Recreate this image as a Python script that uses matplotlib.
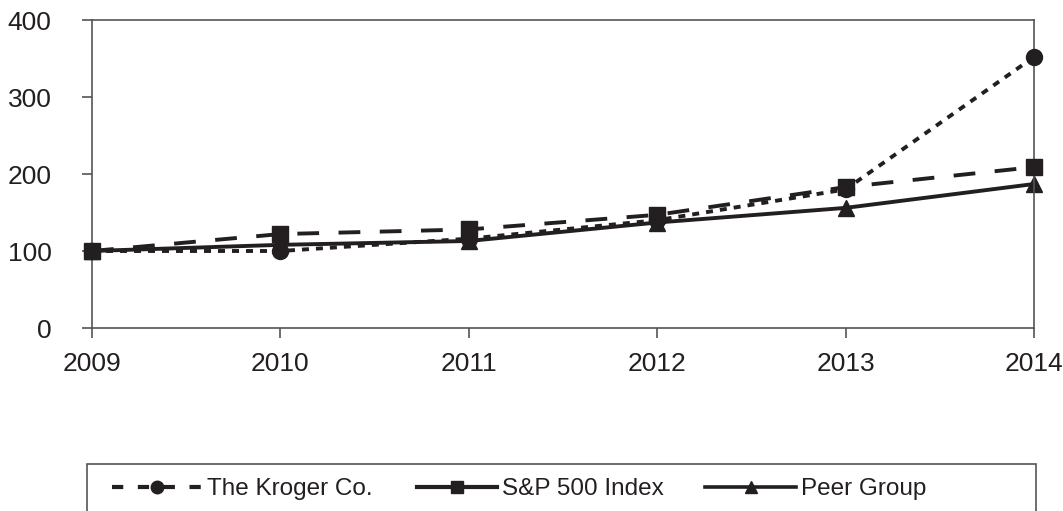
import matplotlib
matplotlib.use("Agg")
import matplotlib.pyplot as plt
from matplotlib.patches import Rectangle
from matplotlib.lines import Line2D

plt.rcParams['font.family'] = ['Liberation Sans', 'DejaVu Sans']

years = [2009, 2010, 2011, 2012, 2013, 2014]
kroger = [100, 100, 116, 140, 180, 352]
sp500 = [100, 122, 128, 147, 183, 209]
peer = [100, 108, 113, 137, 156, 187]
yticks = [0, 100, 200, 300, 400]
names = ['The Kroger Co.', 'S&P 500 Index', 'Peer Group']

W, H = 1063, 511
fig = plt.figure(figsize=(W/100, H/100), dpi=100)
ax = fig.add_axes([92/W, (H-328)/H, (1034-92)/W, (328-20)/H])

col = '#231f20'
ax.plot(years, kroger, color=col, lw=2.8, dashes=(1.8, 1.8), marker='o', ms=11.5,
        zorder=3, clip_on=False)
ax.plot(years, sp500, color=col, lw=2.8, dashes=(5.6, 5), marker='s', ms=11,
        zorder=4, clip_on=False)
ax.plot(years, peer, color=col, lw=2.8, marker='^', ms=11,
        zorder=2, clip_on=False)

ax.set_xlim(2009, 2014)
ax.set_ylim(0, 400)
ax.set_xticks(years)
ax.set_yticks(yticks)
for s in ax.spines.values():
    s.set_color('#555555')
    s.set_linewidth(1.2)
ax.tick_params(axis='y', direction='out', length=7, width=1.2, color='#555555',
               pad=22, labelsize=19, labelcolor=col)
ax.tick_params(axis='x', direction='out', length=7, width=1.2, color='#555555',
               pad=10, labelsize=19, labelcolor=col)

# legend box (extends past the bottom edge of the figure)
fig.patches.append(Rectangle((87/W, -0.1), (1036-87)/W, (H-464)/H + 0.1,
                             transform=fig.transFigure, fill=False,
                             edgecolor='#555555', lw=1.2))

handles = [
    Line2D([], [], color=col, lw=3, dashes=(2.7, 3.5), marker='o', ms=9),
    Line2D([], [], color=col, lw=3, marker='s', ms=8.5),
    Line2D([], [], color=col, lw=2.6, marker='^', ms=9),
]
starts = [112, 417, 705]
hlens = [3.7, 3.3, 3.75]
ly = (H-489)/H
for h, n, x0, hl in zip(handles, names, starts, hlens):
    lg = fig.legend([h], [n], loc='center left', bbox_to_anchor=(x0/W, ly),
                    frameon=False, fontsize=17.5, handlelength=hl,
                    handletextpad=0.2, borderaxespad=0, borderpad=0)
    for t in lg.get_texts():
        t.set_color(col)

fig.savefig('out.png', dpi=100)
